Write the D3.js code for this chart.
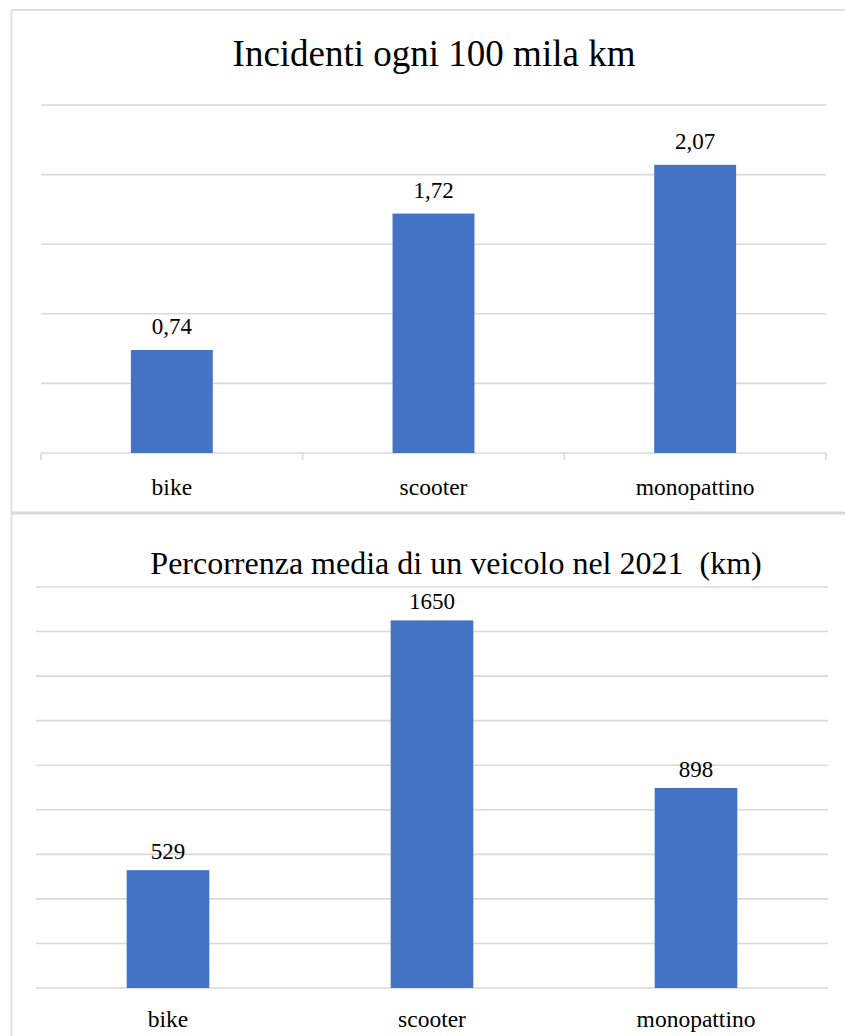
<!DOCTYPE html>
<html><head><meta charset="utf-8">
<script src="https://cdn.jsdelivr.net/npm/d3@7"></script>
<style>
html,body{margin:0;padding:0;background:#fff;}
svg{display:block;}
</style></head>
<body>
<script>
const categories = ["bike", "scooter", "monopattino"];
const incidentValues = [0.74, 1.72, 2.07];
const distanceValues = [529, 1650, 898];
const incidentTicks = [0, 0.5, 1, 1.5, 2, 2.5];
const distanceTicks = [0, 200, 400, 600, 800, 1000, 1200, 1400, 1600, 1800];
const titles = ["Incidenti ogni 100 mila km", "Percorrenza media di un veicolo nel 2021  (km)"];

const W = 845, H = 1036;
const FONT = '"Liberation Serif"';
const barColor = "#4472C4", gridColor = "#d9d9d9";
const itLocale = d3.formatLocale({decimal: ",", thousands: "", grouping: [3], currency: ["", "€"]});

const svg = d3.select("body").append("svg").attr("width", W).attr("height", H);
svg.append("rect").attr("width", W).attr("height", H).attr("fill", "#fff");

// frame lines
svg.append("line").attr("x1", 11.5).attr("x2", 11.5).attr("y1", 9).attr("y2", H)
  .attr("stroke", "#e2e2e2").attr("stroke-width", 2);
svg.append("line").attr("x1", 11).attr("x2", W).attr("y1", 10).attr("y2", 10)
  .attr("stroke", "#dedede").attr("stroke-width", 2);
svg.append("line").attr("x1", 11).attr("x2", W).attr("y1", 513).attr("y2", 513)
  .attr("stroke", "#d9d9d9").attr("stroke-width", 3);

function drawChart(cfg) {
  const g = svg.append("g");
  const x = d3.scaleBand().domain(categories).range([cfg.x0, cfg.x1])
    .paddingInner(0.687).paddingOuter(0.3435);
  const y = d3.scaleLinear().domain([0, cfg.ticks[cfg.ticks.length - 1]]).range([cfg.yBase, cfg.yTop]);

  // gridlines
  g.selectAll("line.grid").data(cfg.ticks.filter(t => t > 0 || !cfg.axisTicks)).enter().append("line")
    .attr("x1", cfg.x0).attr("x2", cfg.x1)
    .attr("y1", d => y(d)).attr("y2", d => y(d))
    .attr("stroke", gridColor).attr("stroke-width", 1.6);

  // category axis
  const axis = d3.axisBottom(x).tickSize(0).tickPadding(0).tickFormat(d => d);
  const ag = g.append("g").attr("transform", `translate(0,${cfg.yBase})`).call(axis);
  ag.attr("font-family", "Liberation Serif").attr("font-size", 23.5);
  ag.select(".domain").remove();
  ag.selectAll(".tick line").remove();
  ag.selectAll(".tick text").attr("y", cfg.catDy).attr("dy", 0)
    .attr("font-family", "Liberation Serif").attr("font-size", 23.5)
    .style("font-family", FONT).attr("fill", "#000");

  if (cfg.axisTicks) {
    g.append("line").attr("x1", cfg.x0).attr("x2", cfg.x1).attr("y1", cfg.yBase).attr("y2", cfg.yBase)
      .attr("stroke", gridColor).attr("stroke-width", 1.6);
    const step = x.step();
    const bounds = d3.range(categories.length + 1).map(i => cfg.x0 + i * step);
    g.selectAll("line.tk").data(bounds).enter().append("line")
      .attr("x1", d => d).attr("x2", d => d).attr("y1", cfg.yBase).attr("y2", cfg.yBase + 7)
      .attr("stroke", gridColor).attr("stroke-width", 1.6);
  }

  // bars
  g.selectAll("rect.bar").data(cfg.values).enter().append("rect")
    .attr("x", (d, i) => x(categories[i])).attr("width", x.bandwidth())
    .attr("y", d => y(d)).attr("height", d => cfg.yBase - y(d))
    .attr("fill", barColor);

  // value labels
  g.selectAll("text.val").data(cfg.values).enter().append("text")
    .attr("x", (d, i) => x(categories[i]) + x.bandwidth() / 2)
    .attr("y", d => y(d) - cfg.labelGap)
    .attr("text-anchor", "middle")
    .attr("font-family", "Liberation Serif").attr("font-size", 23)
    .style("font-family", FONT).attr("fill", "#000")
    .text(d => cfg.fmt(d));

  // title
  g.append("text").attr("x", cfg.titleX).attr("y", cfg.titleY)
    .attr("text-anchor", "middle")
    .attr("font-family", "Liberation Serif").attr("font-size", cfg.titleSize)
    .style("font-family", FONT).attr("fill", "#000")
    .attr("xml:space", "preserve").style("white-space", "pre").text(cfg.title);
}

drawChart({
  values: incidentValues, ticks: incidentTicks, title: titles[0],
  x0: 41, x1: 826, yBase: 453, yTop: 105, axisTicks: true,
  catDy: 42, labelGap: 16, titleX: 434, titleY: 66, titleSize: 37,
  fmt: itLocale.format(".2f")
});
drawChart({
  values: distanceValues, ticks: distanceTicks, title: titles[1],
  x0: 36, x1: 828, yBase: 988, yTop: 587, axisTicks: false,
  catDy: 39, labelGap: 11, titleX: 456, titleY: 574, titleSize: 32,
  fmt: d3.format("d")
});
</script>
</body></html>
